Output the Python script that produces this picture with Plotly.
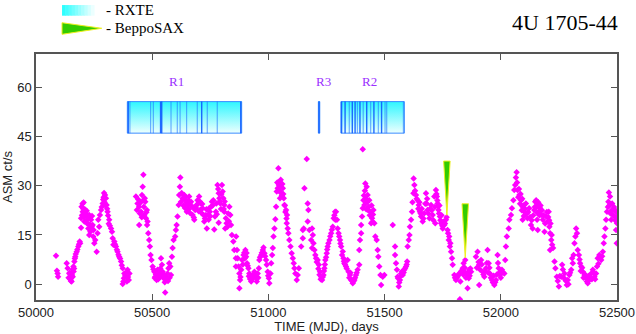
import plotly.graph_objects as go

# ASM light curve (MJD, ct/s)
asm_mjd = [
    50086, 50090, 50093, 50095, 50132, 50136, 50143, 50148, 50153, 50158, 50162, 50161,
    50165, 50169, 50175, 50182, 50188, 50205, 50196, 50201, 50208, 50215, 50222, 50229,
    50194, 50194, 50225, 50229, 50237, 50244, 50248, 50255, 50251, 50261, 50265, 50272,
    50268, 50275, 50280, 50287, 50291, 50297, 50301, 50304, 50308, 50315, 50323, 50327,
    50330, 50337, 50344, 50351, 50358, 50366, 50373, 50380, 50376, 50373, 50387, 50394,
    50402, 50399, 50391,
    50430, 50437, 50444, 50434, 50452, 50444, 50462, 50459, 50456, 50462, 50470, 50466,
    50473, 50477, 50480, 50483, 50487, 50490, 50493, 50497, 50502, 50509, 50513, 50519,
    50523, 50530, 50538, 50542, 50545, 50552, 50556, 50559, 50566, 50570, 50573, 50578,
    50581, 50585, 50588, 50592, 50599, 50602, 50605, 50609, 50614, 50616, 50619, 50621,
    50624, 50631, 50638, 50645, 50652, 50649, 50659, 50667, 50671, 50674, 50681, 50685,
    50691, 50695, 50702, 50710, 50717, 50721, 50724, 50731, 50735, 50743, 50748, 50753,
    50757, 50763, 50767, 50774, 50781, 50786, 50789, 50793, 50800, 50803, 50806, 50810,
    50810, 50817, 50824, 50814, 50786, 50832, 50836, 50839, 50843, 50849, 50853, 50860,
    50860,
    50861, 50865, 50868, 50872, 50875, 50878, 50875, 50883, 50887, 50893, 50901, 50904,
    50908, 50914, 50918, 50926, 50933, 50940, 50947, 50950, 50954, 50959, 50961, 50969,
    50976, 50983, 50990, 50993, 50997, 51002, 51004, 51009, 51012, 51016, 51019, 51026,
    51022, 51030, 51033, 51036, 51040, 51043, 51047, 51052, 51055, 51050, 51062, 51066,
    51069, 51076, 51080, 51079, 51083, 51086, 51090, 51095, 51100, 51105, 51109, 51112,
    51116, 51122, 51126, 51131, 51141, 51148, 51152, 51148, 51155, 51165, 51169, 51172,
    51169, 51176, 51184, 51188, 51191, 51194, 51188, 51198, 51202, 51205, 51212, 51217,
    51222, 51227, 51231, 51237, 51241, 51245, 51251, 51255, 51263, 51270, 51277, 51281,
    51287, 51288,
    51291, 51295, 51298, 51302, 51308, 51313, 51317, 51323, 51327, 51334, 51341, 51345,
    51351, 51356, 51363, 51370, 51377, 51384, 51391, 51391, 51394, 51399, 51399, 51403,
    51406, 51409, 51413, 51417, 51423, 51406, 51427, 51434, 51432, 51439, 51442, 51446,
    51452, 51456, 51460, 51466, 51470, 51473, 51477, 51482, 51485, 51492, 51499, 51535,
    51545, 51545, 51549, 51553, 51556, 51561, 51566, 51571, 51578, 51585, 51592, 51597,
    51599, 51604, 51607, 51609, 51614, 51618, 51624, 51625, 51628, 51635, 51642, 51647,
    51652, 51657, 51664, 51671, 51678, 51681, 51685, 51693, 51700, 51707, 51714, 51718,
    51721, 51725, 51728, 51732, 51738, 51743, 51750, 51757, 51764, 51767, 51771, 51778,
    51776, 51781, 51786, 51790, 51793, 51800, 51807, 51814, 51821, 51826, 51824, 51829,
    51836, 51840, 51847, 51843, 51853, 51857, 51862, 51864, 51872, 51893, 51900, 51907,
    51915, 51907, 51922, 51929, 51936, 51943, 51948, 51953, 51962, 51972, 51979, 51986,
    51991, 51996, 52005, 52015, 52019, 52022, 52026, 52034, 52037, 52044, 52048, 52054,
    52058, 52062, 52068, 52065, 52072, 52080, 52087, 52094, 52101, 52094, 52108, 52115,
    52122, 52130, 52137, 52144, 52148,
    52152, 52159, 52163, 52156, 52159, 52169, 52174, 52181, 52188, 52195, 52202, 52206,
    52209, 52212, 52217, 52221, 52212, 52231, 52235, 52241, 52250, 52260, 52264, 52274,
    52278, 52284, 52288, 52295, 52303, 52310, 52307, 52313, 52317, 52321, 52324, 52328,
    52331, 52336, 52341, 52346, 52353, 52360, 52367, 52374, 52381, 52389, 52396, 52403,
    52410, 52414, 52417, 52424, 52432, 52439, 52443, 52446, 52450, 52453, 52457, 52463,
    52465, 52470, 52479, 52482, 52489, 52496, 52500, 52496, 52499, 52475,
]
asm_rate = [
    8.7, 4.1, 3.3, 2.3, 6.4, 4.9, 3.3, 1.5, 0.8, 2.3, 3.9, 5.4,
    6.9, 8.4, 9.9, 11.5, 13.0, 24.9, 23.6, 22.1, 19.1, 21.6, 19.6, 21.1,
    20.1, 17.2, 17.0, 15.0, 19.6, 18.0, 16.5, 13.5, 12.5, 9.9, 15.5, 17.5,
    19.6, 21.1, 22.6, 24.6, 26.5, 27.2, 26.2, 24.1, 22.1, 19.6, 17.0, 16.0,
    14.0, 13.0, 11.5, 9.9, 8.4, 6.9, 4.9, 3.3, 0.8, 0.1, 2.3, 4.4,
    3.3, 1.3, 0.8,
    26.7, 24.6, 23.6, 22.6, 22.1, 18.0, 33.3, 29.7, 27.2, 25.6, 25.1, 21.1,
    20.1, 22.6, 19.1, 15.5, 13.5, 11.5, 8.9, 7.4, 5.4, 3.8, 2.3, 1.3,
    4.4, 3.3, 7.9, 5.9, 3.8, 2.8, -2.5, 1.3, 3.3, 4.9, 6.4, 5.4,
    2.8, 8.4, 11.0, 13.5, 14.5, 16.5, 18.0, 20.6, 24.1, 27.2, 29.7, 32.5,
    25.1, 26.2, 27.2, 25.6, 24.1, 22.1, 26.7, 25.1, 23.6, 21.1, 19.6, 22.6,
    24.1, 25.6, 26.7, 24.6, 23.1, 21.1, 19.1, 21.1, 17.0, 19.6, 22.1, 23.6,
    25.1, 25.6, 16.7, 22.1, 30.2, 27.7, 26.2, 24.6, 30.2, 28.2, 26.2, 24.1,
    22.1, 20.1, 17.5, 17.0, 18.7, 23.6, 21.1, 18.0, 15.0, 13.0, 10.4, 7.9,
    5.4,
    14.5, 10.4, 7.9, 5.4, 3.3, 1.3, -1.2, 4.4, 7.4, 8.9, 10.4, 8.4,
    6.4, 4.9, 3.3, 0.8, 2.3, 3.8, 1.8, 0.8, 3.3, 4.9, 7.4, 8.9,
    10.4, 9.4, 7.4, 5.9, 3.8, 1.8, 0.3, 3.3, 6.4, 8.9, 11.0, 17.0,
    14.5, 19.8, 23.6, 28.2, 29.2, 35.3, 31.2, 29.7, 27.7, 26.2, 29.2, 26.2,
    24.1, 22.6, 21.1, 18.6, 17.0, 15.5, 13.5, 11.5, 9.4, 7.9, 6.4, 4.9,
    3.3, 1.3, 2.8, 4.9, 11.5, 14.0, 17.0, 16.5, 29.2, 38.1, 24.6, 22.6,
    19.1, 16.5, 13.5, 17.0, 15.0, 12.5, 11.0, 10.4, 8.9, 7.9, 7.4, 5.9,
    3.8, 2.3, 1.3, 2.8, 4.9, 7.4, 9.4, 11.5, 13.5, 15.5, 17.5, 20.1,
    22.1, 19.6,
    22.1, 19.6, 17.0, 15.5, 13.5, 11.5, 8.9, 7.9, 6.4, 5.4, 7.4, 3.8,
    2.8, 1.3, 0.3, 1.3, 2.8, 4.4, 5.9, 10.4, 13.5, 15.5, 18.0, 20.6,
    23.1, 25.6, 24.1, 30.7, 29.7, 41.1, 27.2, 25.6, 23.6, 22.1, 18.6, 20.1,
    22.6, 18.6, 14.5, 13.5, 10.4, 8.4, 5.4, 2.8, -0.2, 2.3, 2.8, 18.0,
    11.5, 8.9, 6.4, 4.4, 2.3, -0.7, 1.3, 3.3, 2.8, 4.4, 5.4, 6.9,
    11.5, 13.5, 15.0, 17.5, 19.6, 22.1, 27.7, 32.2, 30.2, 27.2, 25.6, 24.1,
    22.1, 20.6, 19.1, 21.6, 27.7, 24.6, 22.6, 20.1, 24.1, 21.1, 26.7, 18.6,
    28.7, 26.7, 24.6, 22.6, 20.6, 18.6, 17.0, 18.0, 19.6, 20.4, 16.5, 14.5,
    13.5, 11.5, 9.9, 7.9, 5.9, 2.8, 1.3, 2.3, 3.3, 0.8, -4.6, 3.8,
    4.9, 6.4, 7.4, 3.8, 3.3, -1.2, 1.8, 4.4, 3.8, 8.4, 9.9, 5.9,
    7.4, -0.2, 3.8, 2.3, 4.9, 10.4, 6.4, 3.3, 1.3, -0.2, 1.3, 8.9,
    4.9, 2.8, 4.4, 3.3, 7.4, 11.5, 14.5, 17.0, 19.6, 21.1, 23.1, 25.6,
    28.7, 30.2, 34.1, 32.5, 28.7, 27.2, 25.6, 23.6, 22.1, 19.6, 24.6, 20.1,
    23.1, 18.0, 17.0, 22.6, 25.1,
    25.6, 24.1, 22.1, 19.6, 16.5, 23.1, 21.1, 19.6, 16.0, 20.6, 19.1, 22.1,
    17.5, 15.5, 13.5, 12.0, 10.4, 6.9, 4.9, 2.3, -0.7, 2.3, 5.9, 3.3,
    1.3, -0.2, 1.3, 2.8, 4.4, 6.4, 7.9, 8.9, 12.5, 14.5, 17.0, 15.5,
    10.4, 8.9, 6.4, 5.4, 3.8, 2.8, 1.8, 0.3, 1.3, 3.3, 4.4, 2.3,
    3.3, 5.4, 7.9, 8.9, 7.4, 9.9, 12.5, 14.5, 17.0, 19.6, 22.1, 25.1,
    27.9, 26.7, 24.6, 22.6, 20.6, 22.1, 18.6, 16.5, 12.5, 19.6,
]

# further ASM points read inside the crowded parts of the curve
asm_mjd_dense = [
    50140, 50145, 50150, 50155, 50157, 50164, 50167, 50171, 50178, 50185, 50190,
    50198, 50200, 50203, 50206, 50210, 50212, 50218, 50220, 50226, 50232, 50234, 50240,
    50241, 50246, 50283, 50289, 50293, 50295, 50299, 50306, 50310, 50313, 50318, 50333,
    50340, 50348, 50355, 50362, 50369, 50378, 50384, 50389, 50396,
    50440, 50447, 50449, 50455, 50464, 50468, 50475, 50478,
    50505, 50511, 50516, 50521, 50526, 50533, 50535, 50540, 50548, 50554, 50562, 50568, 50575,
    50627, 50634, 50636, 50641, 50643, 50647, 50655, 50657, 50662, 50664, 50677, 50679,
    50688, 50698, 50700, 50705, 50707, 50713, 50715, 50727, 50733, 50740, 50746, 50750,
    50760, 50770, 50776, 50778, 50784, 50791, 50796, 50798, 50808, 50812, 50820, 50827, 50830,
    50880, 50890, 50896, 50898, 50906, 50911, 50916, 50921, 50929, 50936, 50943, 50956,
    50964, 50972, 50979, 50986, 50999,
    51038, 51045, 51049, 51053, 51058, 51060, 51064, 51071, 51073, 51078,
    51208, 51215, 51220, 51225, 51234, 51239, 51243, 51248, 51253, 51258, 51266, 51273, 51284,
    51305, 51310, 51320, 51325, 51330, 51337, 51348, 51353, 51360, 51366, 51373, 51380,
    51411, 51415, 51419, 51421, 51425, 51429, 51436, 51444, 51448, 51450,
    51558, 51563, 51568, 51575, 51582, 51588, 51595,
    51620, 51631, 51638, 51645, 51650, 51655, 51660, 51667, 51675, 51683, 51688, 51696,
    51703, 51710, 51716,
    51723, 51727, 51730, 51734, 51736, 51740, 51745, 51748, 51753, 51760, 51773, 51783,
    51803, 51810, 51818, 51832, 51838, 51845, 51850, 51858, 51866, 51869,
    51897, 51904, 51911, 51918, 51925, 51932, 51940, 51946, 51951, 51957, 51966, 51969,
    51976, 51983, 51988, 51994, 52000, 52010,
    52070, 52075, 52078, 52083, 52085, 52090, 52092, 52097, 52099, 52104, 52111, 52118,
    52126, 52133, 52140, 52146,
    52154, 52157, 52161, 52166, 52171, 52177, 52184, 52191, 52198, 52204, 52208, 52214,
    52219, 52225,
    52245, 52254, 52267, 52271, 52281, 52291, 52298,
    52339, 52344, 52350, 52356, 52363, 52370, 52377, 52385, 52392, 52399, 52406, 52420,
    52428, 52436,
    52461, 52467, 52472, 52477, 52484, 52487, 52492, 52494, 52498,
]
asm_rate_dense = [
    2.0, 3.5, 1.0, 2.8, 4.5, 4.8, 7.8, 9.2, 10.6, 12.2, 12.5,
    21.0, 24.5, 23.0, 20.5, 22.8, 20.8, 22.4, 18.5, 20.2, 18.2, 16.0, 17.5,
    20.8, 14.5, 23.5, 25.8, 27.8, 25.0, 24.0, 23.0, 20.9, 18.4, 17.8, 12.0,
    12.2, 10.5, 9.0, 7.8, 5.8, 1.8, 2.6, 3.6, 2.2,
    25.8, 21.5, 24.8, 20.4, 23.6, 26.2, 21.9, 18.0,
    4.6, 1.9, 3.0, 2.4, 1.5, 2.1, 4.8, 3.0, 1.9, 0.6, 2.2, 1.0, 2.0,
    27.8, 24.0, 26.0, 23.2, 26.6, 24.8, 25.5, 22.8, 24.4, 21.6, 23.4, 20.3,
    23.3, 24.6, 22.2, 25.2, 22.7, 21.6, 24.4, 20.0, 22.8, 21.1, 23.2, 20.7,
    24.0, 20.6, 24.6, 21.3, 29.0, 25.3, 22.9, 27.5, 22.9, 25.2, 18.6, 21.5, 19.2,
    2.2, 6.0, 9.6, 7.8, 9.5, 5.6, 2.4, 1.6, 1.4, 3.0, 2.7, 2.0,
    8.2, 9.6, 11.2, 8.5, 2.6,
    31.0, 30.2, 28.3, 31.8, 27.0, 30.5, 27.5, 24.0, 22.0, 20.0,
    6.8, 4.7, 2.9, 1.5, 2.2, 4.0, 6.0, 8.2, 10.6, 12.5, 14.6, 16.6, 21.0,
    14.5, 12.4, 10.0, 7.0, 6.0, 4.8, 2.0, 3.5, 1.0, 0.8, 2.0, 3.5,
    27.0, 28.5, 26.0, 22.8, 25.0, 22.5, 21.0, 24.0, 19.0, 21.2,
    1.8, 0.5, 2.4, 3.9, 3.6, 4.9, 6.0,
    25.0, 28.5, 26.0, 23.0, 25.0, 21.5, 23.0, 20.0, 24.5, 26.0, 21.5, 23.0,
    22.5, 19.5, 23.5,
    27.5, 25.5, 23.8, 21.5, 24.0, 19.5, 21.0, 17.8, 19.0, 18.5, 15.5, 12.5,
    2.0, 1.8, 2.8, 4.2, 3.0, 5.0, 2.0, 3.4, 2.6, 4.8,
    5.0, 6.8, 4.4, 6.0, 3.0, 4.0, 6.5, 3.5, 5.0, 2.0, 0.5, 2.6,
    0.6, 3.0, 6.5, 3.6, 2.0, 3.6,
    31.0, 26.5, 29.0, 24.5, 27.5, 22.5, 26.0, 24.0, 20.8, 23.0, 21.5, 22.0,
    20.5, 19.5, 21.0, 23.5,
    23.5, 21.8, 25.0, 21.0, 24.0, 22.5, 21.0, 18.5, 22.0, 20.5, 19.5, 18.5,
    15.0, 11.0,
    1.0, 2.5, 4.5, 2.0, 1.0, 0.0, 3.5,
    7.5, 4.0, 5.0, 2.0, 3.0, 0.8, 2.5, 2.0, 1.5, 3.6, 1.5, 6.2,
    8.0, 8.5,
    23.5, 24.0, 21.5, 22.5, 21.0, 23.5, 19.5, 22.5, 20.5,
]

# RXTE pointed-observation campaigns
rxte_names = ["R1", "R3", "R2"]
rxte_start = [50393, 51215, 51312]
rxte_end = [50885, 51221, 51585]
rxte_label_mjd = [50605, 51239, 51434]
rxte_obs_dark = [50397, 50536, 50541, 50713, 50881, 51218, 51315, 51330, 51361,
                 51373, 51394, 51423, 51454, 51487]
rxte_obs_light = [50404, 50493, 50505, 50581, 50608, 50620, 50648, 50694, 50737,
                  50780, 51348, 51383, 51408, 51440, 51473, 51502, 51509, 51581]

# BeppoSAX observations (MJD, ASM level at the arrow tip)
sax_mjd = [51768, 51847]
sax_level = [21.0, 8.0]

BAND_LO, BAND_HI = 46.0, 55.6
SAX_HEIGHT, SAX_HALFWIDTH = 16.5, 14
SERIF = "Liberation Serif"
SANS = "Liberation Sans"

fig = go.Figure()

# RXTE bands, cyan on top fading to white at the bottom
for s, e in zip(rxte_start, rxte_end):
    fig.add_trace(go.Scatter(
        x=[s, e, e, s, s], y=[BAND_LO, BAND_LO, BAND_HI, BAND_HI, BAND_LO],
        mode="lines", fill="toself",
        fillgradient=dict(type="vertical", start=BAND_LO, stop=BAND_HI,
                          colorscale=[[0, "#eefffe"], [1, "#2ef7ff"]]),
        line=dict(color="#3b8cff", width=1), hoverinfo="skip", showlegend=False,
    ))

def obs_lines(times):
    xs, ys = [], []
    for t in times:
        xs += [t, t, None]
        ys += [BAND_LO, BAND_HI, None]
    return xs, ys

xs, ys = obs_lines(rxte_obs_light)
fig.add_trace(go.Scatter(x=xs, y=ys, mode="lines",
                         line=dict(color="rgba(30,110,255,0.55)", width=1.2),
                         hoverinfo="skip", showlegend=False))
xs, ys = obs_lines(rxte_obs_dark)
fig.add_trace(go.Scatter(x=xs, y=ys, mode="lines",
                         line=dict(color="rgba(16,90,255,0.9)", width=1.4),
                         hoverinfo="skip", showlegend=False))

# ASM light curve
fig.add_trace(go.Scatter(
    x=asm_mjd + asm_mjd_dense, y=asm_rate + asm_rate_dense, mode="markers",
    marker=dict(symbol="diamond", size=5, color="#ff00ff", line=dict(width=0)),
    hoverinfo="skip", showlegend=False,
))

# BeppoSAX arrows, green fading to yellow at the tip
for t, lvl in zip(sax_mjd, sax_level):
    fig.add_trace(go.Scatter(
        x=[t - SAX_HALFWIDTH, t + SAX_HALFWIDTH, t, t - SAX_HALFWIDTH],
        y=[lvl + SAX_HEIGHT, lvl + SAX_HEIGHT, lvl, lvl + SAX_HEIGHT],
        mode="lines", fill="toself",
        fillgradient=dict(type="vertical", start=lvl, stop=lvl + SAX_HEIGHT,
                          colorscale=[[0, "#ffff20"], [0.3, "#7ad800"],
                                      [0.5, "#33cc00"], [1, "#33cc00"]]),
        line=dict(color="#f0f020", width=1), hoverinfo="skip", showlegend=False,
    ))

annotations = [
    dict(x=m, y=61.6, text=n, showarrow=False, xref="x", yref="y",
         font=dict(family=SERIF, size=13, color="#9b30ff"))
    for n, m in zip(rxte_names, rxte_label_mjd)
]
annotations += [
    dict(x=1.005, y=1.13, xref="paper", yref="paper", text="4U 1705-44",
         showarrow=False, xanchor="right", yanchor="middle",
         font=dict(family=SERIF, size=22, color="black")),
    dict(x=0.117, y=1.177, xref="paper", yref="paper", text="- RXTE",
         showarrow=False, xanchor="left", yanchor="middle",
         font=dict(family=SERIF, size=15, color="black")),
    dict(x=0.117, y=1.104, xref="paper", yref="paper", text="- BeppoSAX",
         showarrow=False, xanchor="left", yanchor="middle",
         font=dict(family=SERIF, size=15, color="black")),
]

# legend swatches (outside the plot area)
shapes = []
n_strip = 10
x0, x1 = 0.0448, 0.0998
for i in range(n_strip):
    f = i / (n_strip - 1)
    r = int(0x2e + f * (0xec - 0x2e))
    shapes.append(dict(type="rect", xref="paper", yref="paper",
                       x0=x0 + (x1 - x0) * i / n_strip,
                       x1=x0 + (x1 - x0) * (i + 1) / n_strip + 0.001,
                       y0=1.1557, y1=1.199, line=dict(width=0),
                       fillcolor=f"rgb({r},255,255)"))
shapes.append(dict(type="path", xref="paper", yref="paper",
                   path="M 0.0448 1.1272 L 0.1131 1.1045 L 0.0448 1.080 Z",
                   fillcolor="#33cc00", line=dict(color="#f0f020", width=1)))

axis_common = dict(showline=True, mirror="ticks", linecolor="#555", linewidth=1.5,
                   ticks="inside", ticklen=6, tickcolor="#555", showgrid=False,
                   zeroline=False, automargin=False,
                   tickfont=dict(family=SANS, size=13, color="#222"))

fig.update_layout(
    width=636, height=334,
    margin=dict(l=36, r=19, t=54, b=34),
    paper_bgcolor="white", plot_bgcolor="white",
    showlegend=False,
    annotations=annotations,
    shapes=shapes,
    xaxis=dict(range=[50000, 52500], tickvals=[50000, 50500, 51000, 51500, 52000, 52500],
               tickformat="d",
               title=dict(text="TIME (MJD), days", font=dict(family=SANS, size=13, color="#222"),
                          standoff=2),
               **axis_common),
    yaxis=dict(range=[-4.8, 70.1], tickvals=[0, 15, 30, 45, 60],
               title=dict(text="ASM ct/s", font=dict(family=SANS, size=13, color="#222"),
                          standoff=4),
               **axis_common),
)

# drop the browser's default body margin so the figure sits at the window origin
fig.write_html("out.html", config={"displayModeBar": False},
               post_script="document.body.style.margin='0';")
